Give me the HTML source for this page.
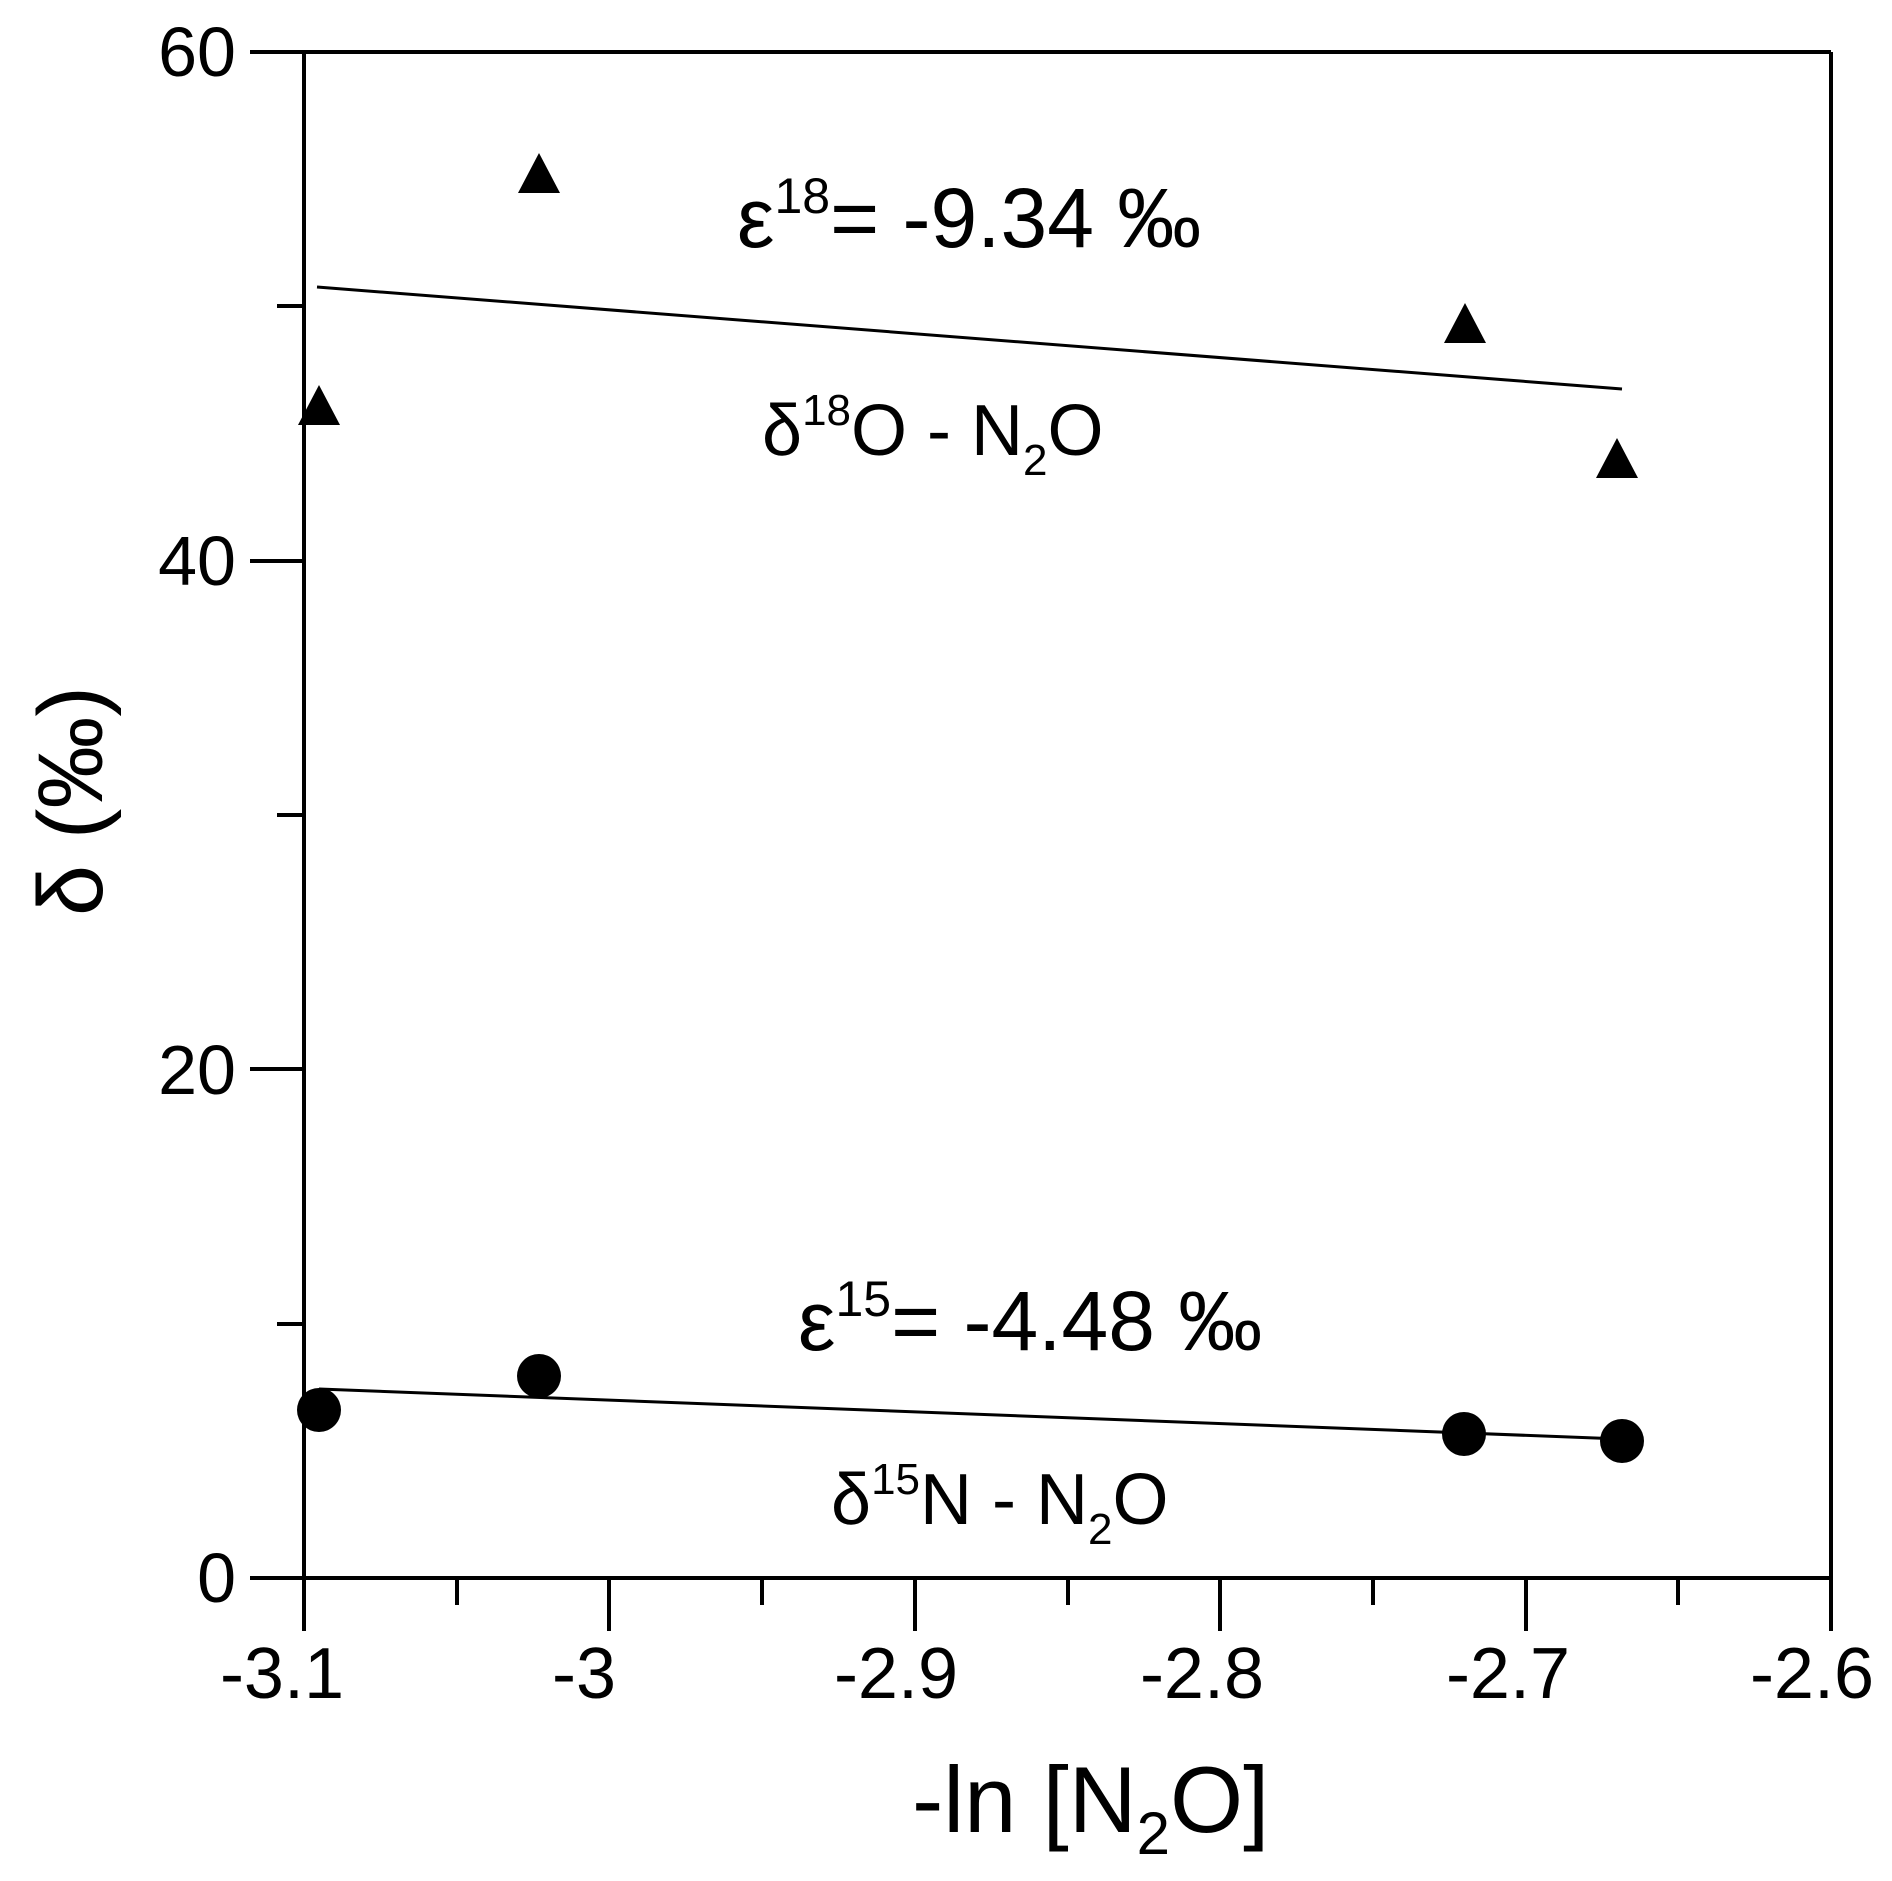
<!DOCTYPE html>
<html><head><style>body{margin:0;background:#fff}svg{display:block}</style></head>
<body>
<svg width="1892" height="1881" viewBox="0 0 1892 1881" xmlns="http://www.w3.org/2000/svg" font-family="Liberation Sans, sans-serif" fill="#000">
<g stroke="#000" stroke-width="4" fill="none">
<line x1="304" y1="52" x2="304" y2="1578"/>
<line x1="250" y1="52" x2="1831" y2="52"/>
<line x1="1831" y1="52" x2="1831" y2="1631"/>
<line x1="250" y1="1578" x2="1831" y2="1578"/>
<line x1="250" y1="1069" x2="304" y2="1069"/>
<line x1="250" y1="561" x2="304" y2="561"/>
<line x1="277" y1="1324" x2="304" y2="1324"/>
<line x1="277" y1="815" x2="304" y2="815"/>
<line x1="277" y1="306" x2="304" y2="306"/>
<line x1="304" y1="1578" x2="304" y2="1631"/>
<line x1="609" y1="1578" x2="609" y2="1631"/>
<line x1="915" y1="1578" x2="915" y2="1631"/>
<line x1="1220" y1="1578" x2="1220" y2="1631"/>
<line x1="1526" y1="1578" x2="1526" y2="1631"/>
<line x1="457" y1="1578" x2="457" y2="1605"/>
<line x1="762" y1="1578" x2="762" y2="1605"/>
<line x1="1068" y1="1578" x2="1068" y2="1605"/>
<line x1="1373" y1="1578" x2="1373" y2="1605"/>
<line x1="1678" y1="1578" x2="1678" y2="1605"/>
</g>
<g stroke="#000" stroke-width="3">
<line x1="317" y1="287" x2="1622" y2="389"/>
<line x1="319" y1="1389" x2="1621" y2="1439"/>
</g>
<polygon points="319,385 298,425 340,425"/>
<polygon points="539,153 518,193 560,193"/>
<polygon points="1465,303 1444,343 1486,343"/>
<polygon points="1617,438 1596,478 1638,478"/>
<circle cx="319" cy="1410" r="22"/>
<circle cx="539" cy="1376" r="22"/>
<circle cx="1464" cy="1434" r="22"/>
<circle cx="1622" cy="1441" r="22"/>
<g font-size="70" text-anchor="end">
<text x="236" y="76">60</text>
<text x="236" y="585">40</text>
<text x="236" y="1094">20</text>
<text x="236" y="1602">0</text>
</g>
<g font-size="72" text-anchor="middle">
<text x="282" y="1698">-3.1</text>
<text x="584" y="1698">-3</text>
<text x="896" y="1698">-2.9</text>
<text x="1202" y="1698">-2.8</text>
<text x="1508" y="1698">-2.7</text>
<text x="1812" y="1698">-2.6</text>
</g>
<text x="912" y="1832" font-size="94">-ln [N<tspan font-size="60" dy="22">2</tspan><tspan dy="-22">O]</tspan></text>
<text transform="translate(102,801) rotate(-90)" text-anchor="middle" font-size="92">δ (‰)</text>
<text x="737" y="247" font-size="84">ε<tspan font-size="50" dy="-34">18</tspan><tspan dy="34">= -9.34 ‰</tspan></text>
<text x="762" y="455" font-size="72">δ<tspan font-size="44" dy="-30">18</tspan><tspan dy="30">O - N</tspan><tspan font-size="44" dy="20">2</tspan><tspan dy="-20">O</tspan></text>
<text x="798" y="1350" font-size="84">ε<tspan font-size="50" dy="-34">15</tspan><tspan dy="34">= -4.48 ‰</tspan></text>
<text x="831" y="1524" font-size="72">δ<tspan font-size="44" dy="-30">15</tspan><tspan dy="30">N - N</tspan><tspan font-size="44" dy="20">2</tspan><tspan dy="-20">O</tspan></text>
</svg>
</body></html>
